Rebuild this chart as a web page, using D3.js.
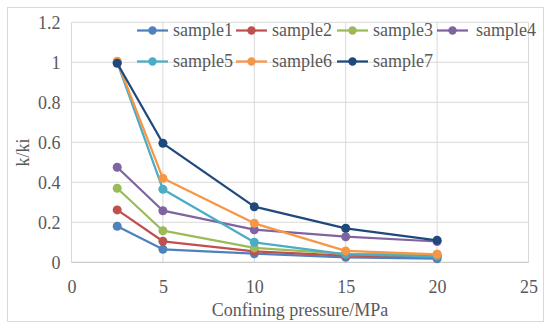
<!DOCTYPE html>
<html><head><meta charset="utf-8">
<script src="https://cdn.jsdelivr.net/npm/d3@7"></script>
<style>body{margin:0;background:#fff}svg{display:block}</style>
</head><body><svg id="c" width="550" height="329"></svg>
<script>
const pressures = [2.5, 5, 10, 15, 20];
const seriesNames = ["sample1","sample2","sample3","sample4","sample5","sample6","sample7"];
const sample1 = [0.18, 0.065, 0.043, 0.025, 0.018];
const sample2 = [0.262, 0.105, 0.055, 0.033, 0.028];
const sample3 = [0.37, 0.158, 0.072, 0.042, 0.04];
const sample4 = [0.475, 0.258, 0.163, 0.128, 0.104];
const sample5 = [1.0, 0.365, 0.1, 0.04, 0.03];
const sample6 = [1.005, 0.42, 0.195, 0.057, 0.04];
const sample7 = [0.995, 0.595, 0.278, 0.17, 0.11];
const seriesValues = [sample1,sample2,sample3,sample4,sample5,sample6,sample7];
const colors = ["#4F81BD","#C0504D","#9BBB59","#8064A2","#4BACC6","#F79646","#1F497D"];
const xTicks = [0,5,10,15,20,25];
const yTicks = [0,0.2,0.4,0.6,0.8,1,1.2];

const FONT = '"Liberation Serif","Times New Roman",serif';
const FS = 18;
const svg = d3.select("#c");
svg.append("rect").attr("x",7.5).attr("y",7.5).attr("width",536).attr("height",314)
  .attr("fill","#fff").attr("stroke","#D9D9D9").attr("stroke-width",1);

const x = d3.scaleLinear().domain([0,25]).range([71.5,528.5]);
const y = d3.scaleLinear().domain([0,1.2]).range([262.3,22.3]);

const g = svg.append("g");
g.selectAll(".vg").data(xTicks).enter().append("line")
  .attr("x1",d=>x(d)).attr("x2",d=>x(d)).attr("y1",y(0)).attr("y2",y(1.2))
  .attr("stroke","#D9D9D9").attr("stroke-width",1);
g.selectAll(".hg").data(yTicks.filter(d=>d>0)).enter().append("line")
  .attr("x1",x(0)).attr("x2",x(25)).attr("y1",d=>y(d)).attr("y2",d=>y(d))
  .attr("stroke","#D9D9D9").attr("stroke-width",1);
g.append("line").attr("x1",x(0)).attr("x2",x(25)).attr("y1",y(0)).attr("y2",y(0))
  .attr("stroke","#BFBFBF").attr("stroke-width",1);

function styleText(sel){
  sel.style("font-family",FONT).style("font-size",FS+"px").style("fill","#595959");
}
const xAxis = d3.axisBottom(x).tickValues(xTicks).tickSize(0).tickPadding(0).tickFormat(d3.format("d"));
const xa = svg.append("g").attr("transform",`translate(0,${y(0)})`).call(xAxis);
xa.select(".domain").remove();
xa.selectAll("text").attr("dy",null).attr("y",31).call(styleText);
const yAxis = d3.axisLeft(y).tickValues(yTicks).tickSize(0).tickPadding(11).tickFormat(d=>String(d));
const ya = svg.append("g").attr("transform",`translate(${x(0)},0)`).call(yAxis);
ya.select(".domain").remove();
ya.selectAll("text").attr("dy","0.34em").call(styleText);

svg.append("text").attr("x",x(12.5)).attr("y",316).attr("text-anchor","middle")
  .call(styleText).text("Confining pressure/MPa");
svg.append("text").attr("transform","translate(29,152.5) rotate(-90)").attr("text-anchor","middle")
  .call(styleText).text("k/ki");

const line = d3.line().x((d,i)=>x(pressures[i])).y(d=>y(d));
seriesValues.forEach((vals,si)=>{
  const sg = svg.append("g");
  sg.append("path").datum(vals).attr("d",line).attr("fill","none")
    .attr("stroke",colors[si]).attr("stroke-width",2.25).attr("stroke-linejoin","round");
  sg.selectAll("circle").data(vals).enter().append("circle")
    .attr("cx",(d,i)=>x(pressures[i])).attr("cy",d=>y(d)).attr("r",4.5).attr("fill",colors[si]);
});

const legX = [137,236,337,437];
const legY = [30.5,61.5];
seriesNames.forEach((n,i)=>{
  const lx = legX[i%4], ly = legY[Math.floor(i/4)];
  const lg = svg.append("g");
  lg.append("line").attr("x1",lx).attr("x2",lx+31).attr("y1",ly).attr("y2",ly)
    .attr("stroke",colors[i]).attr("stroke-width",2.25);
  lg.append("circle").attr("cx",lx+15.5).attr("cy",ly).attr("r",4.2).attr("fill",colors[i]);
  lg.append("text").attr("x",lx+(i===3?39:36)).attr("y",ly+5.5).call(styleText).text(n);
});
</script></body></html>
